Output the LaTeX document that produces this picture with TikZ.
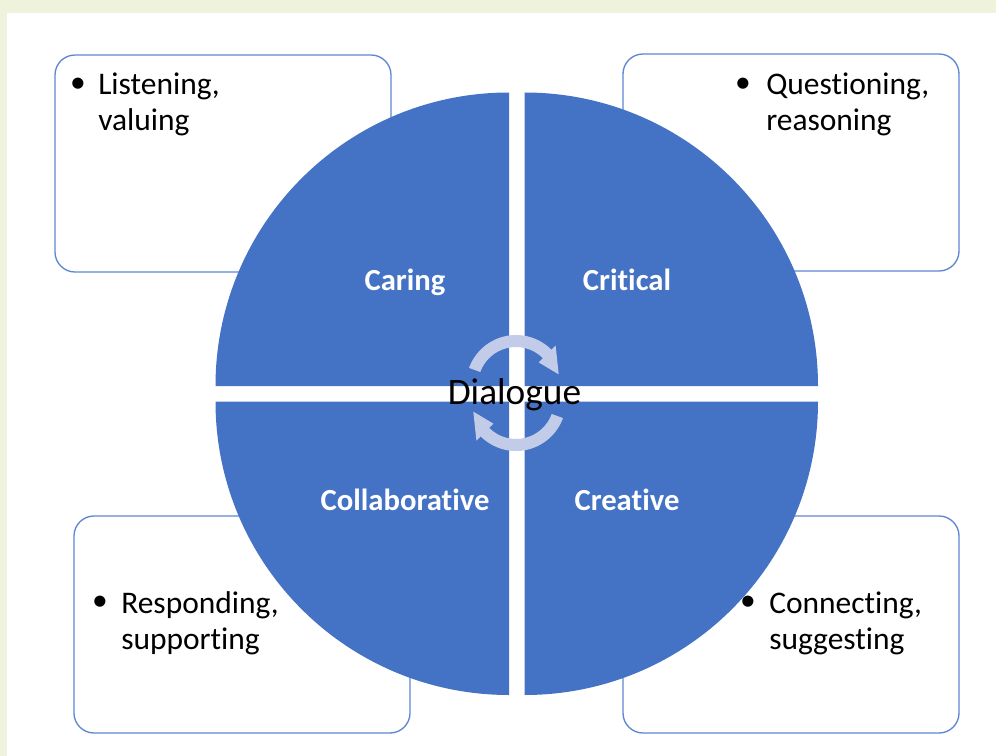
\documentclass[tikz,border=0pt]{standalone}
\usepackage{fontspec}
\setmainfont{Carlito}[Ligatures=NoCommon]
\definecolor{quad}{HTML}{4472C4}
\definecolor{frame}{HTML}{5F86D4}
\definecolor{pagebg}{HTML}{F0F3DC}
\definecolor{ring}{HTML}{C2CCE9}

\begin{document}
\begin{tikzpicture}[x=0.75pt,y=-0.75pt,
  infobox/.style={draw=frame, line width=1pt, fill=white, rounded corners=15pt},
  quadrant/.style={fill=quad},
  qlabel/.style={text=white, font=\fontsize{23}{27}\selectfont\bfseries, inner sep=0pt, anchor=base},
  bulletmark/.style={font=\fontsize{23.6}{27}\selectfont, inner sep=0pt, anchor=center},
  itemtext/.style={font=\fontsize{23.6}{27}\selectfont, inner sep=0pt, anchor=base west},
  cyclearrow/.style={fill=ring}]

% page and white panel
\useasboundingbox (0,0) rectangle (996,756);
\fill[pagebg] (0,0) rectangle (996,756);
\fill[white] (7,13) rectangle (996,756);

% corner boxes
\draw[infobox] (55,55) rectangle (391,272);
\draw[infobox] (623,54) rectangle (959,271);
\draw[infobox] (74,516) rectangle (410,733);
\draw[infobox] (623,516) rectangle (959,733);

% four quarter discs
\fill[quadrant] (509,386) -- (215.5,386) arc[start angle=180, end angle=270, radius=293.5] -- cycle;
\fill[quadrant] (524.5,386) -- (524.5,92.5) arc[start angle=270, end angle=360, radius=293.5] -- cycle;
\fill[quadrant] (524.5,401.5) -- (818,401.5) arc[start angle=0, end angle=90, radius=293.5] -- cycle;
\fill[quadrant] (509,401.5) -- (509,695) arc[start angle=90, end angle=180, radius=293.5] -- cycle;

% circular arrows around the centre
\begin{scope}[shift={(516,385)}, yscale=-1]
  \fill[cyclearrow] (160:50) arc[start angle=160, end angle=45, radius=50]
    -- (45:56) -- (14:44) -- (45:32) -- (45:38)
    arc[start angle=45, end angle=160, radius=38] -- cycle;
\end{scope}
\begin{scope}[shift={(516,401)}, yscale=-1]
  \fill[cyclearrow] (340:50) arc[start angle=340, end angle=225, radius=50]
    -- (225:56) -- (194:44) -- (225:32) -- (225:38)
    arc[start angle=225, end angle=340, radius=38] -- cycle;
\end{scope}

% labels
\node[qlabel] (caring) at (405,290) {Caring};
\node[qlabel] (critical) at (627,290) {Critical};
\node[qlabel] (collab) at (405,510) {Collaborative};
\node[qlabel] (creative) at (627,510) {Creative};
\node[font=\fontsize{28}{31}\selectfont, inner sep=0pt, anchor=base] (dialogue) at (514.5,404) {Dialogue};

% bullet items
\node[bulletmark] (tlb) at (78,85) {\textbullet};
\node[itemtext] (tl1) at (98,95) {Listening,};
\node[itemtext] (tl2) at (98,130.5) {valuing};

\node[bulletmark] (trb) at (743,85) {\textbullet};
\node[itemtext] (tr1) at (766,95) {Questioning,};
\node[itemtext] (tr2) at (766,130.5) {reasoning};

\node[bulletmark] (blb) at (100,603) {\textbullet};
\node[itemtext] (bl1) at (121,613) {Responding,};
\node[itemtext] (bl2) at (121,649) {supporting};

\node[bulletmark] (brb) at (748,603) {\textbullet};
\node[itemtext] (br1) at (769,613) {Connecting,};
\node[itemtext] (br2) at (769,649) {suggesting};
\end{tikzpicture}
\end{document}
